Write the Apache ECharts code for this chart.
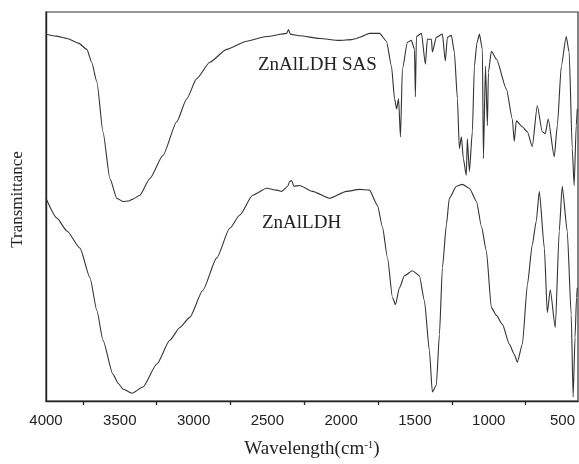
<!DOCTYPE html>
<html>
<head>
<meta charset="utf-8">
<script src="https://cdn.jsdelivr.net/npm/echarts@6/dist/echarts.min.js"></script>
<style>html,body{margin:0;padding:0;background:#fff}#c{width:579px;height:464px}</style>
</head>
<body>
<div id="c"></div>
<script>
// Wavenumbers (cm-1) and transmittance (a.u., 0-100)
const sasWavenumber = [4000,3930,3858,3780,3723,3690,3655,3614,3567,3520,3479,3440,3411,3364,3296,3208,3114,3046,2980,2890,2776,2640,2505,2370,2356,2345,2282,2146,2011,1930,1896,1875,1808,1740,1693,1659,1638,1624,1611,1598,1585,1551,1524,1503,1497,1490,1456,1429,1416,1388,1382,1355,1314,1294,1280,1253,1233,1212,1199,1185,1172,1152,1145,1131,1111,1097,1080,1063,1043,1036,1022,1009,1002,982,948,880,840,827,813,772,738,705,671,637,617,597,556,535,508,475,455,434,421,407,400];
const sasValue = [94.3,93.8,93.2,92.0,90.4,87.0,82.0,69.2,57.2,52.1,51.3,51.4,51.9,52.9,57.2,63.1,71.8,77.7,82.8,87.1,90.4,92.5,93.7,94.5,95.5,94.3,93.9,93.2,92.7,92.9,93.2,93.5,94.5,94.5,92.5,86.1,77.7,75.1,77.7,67.9,85.3,92.2,92.7,90.4,78.2,93.7,94.5,86.6,93.0,93.0,89.7,93.5,94.3,87.4,93.5,94.0,89.7,77.7,64.9,67.9,62.3,58.0,67.4,59.0,69.2,86.1,92.0,94.3,90.4,62.3,86.1,70.8,84.5,89.9,87.9,80.2,72.5,66.7,72.0,70.5,69.2,65.4,75.9,69.2,68.7,72.5,62.8,70.8,86.1,93.7,89.7,64.9,55.4,70.8,75.1];

const ldhWavenumber = [4000,3926,3858,3770,3702,3655,3614,3547,3510,3479,3418,3343,3249,3161,3093,3026,2938,2843,2755,2687,2600,2505,2437,2403,2362,2349,2336,2320,2282,2194,2078,1964,1875,1808,1754,1720,1686,1652,1632,1605,1571,1517,1470,1436,1402,1382,1355,1334,1314,1287,1267,1219,1179,1131,1083,1050,1016,982,948,907,860,827,806,772,738,705,678,657,623,603,583,549,522,502,468,441,428,415,405,400];
const ldhValue = [52.1,47.0,43.7,39.3,31.7,23.2,15.6,6.9,4.5,3.1,2.0,3.6,9.5,15.6,18.9,21.5,28.4,36.8,44.4,47.8,52.9,54.7,54.2,53.9,55.2,56.4,56.7,55.2,55.4,53.9,52.1,53.9,54.4,54.2,50.3,44.7,36.8,26.6,24.8,29.1,32.2,33.5,32.2,25.8,13.0,2.3,4.1,17.1,34.2,45.2,52.1,55.2,55.7,54.7,51.3,45.0,38.6,24.0,22.0,19.7,14.6,12.0,10.0,14.6,29.9,40.1,46.2,53.9,39.3,22.7,28.6,18.9,43.7,55.2,43.7,22.2,1.0,16.3,26.6,29.1];

const xTickLabels = [4000,3500,3000,2500,2000,1500,1000,500];
const xMinorTicks = [3750,3250,2750,2250,1750,1250,750];
const seriesNames = ['ZnAlLDH SAS','ZnAlLDH'];

const pairs = (xs, ys) => xs.map((x, i) => [x, ys[i]]);

const chart = echarts.init(document.getElementById('c'), null, {renderer: 'canvas'});
const serif = '"Liberation Serif", "Times New Roman", serif';
const sans = '"Liberation Sans", Arial, sans-serif';
chart.setOption({
  animation: false,
  backgroundColor: '#fff',
  grid: {left: 46, right: 1, top: 12, bottom: 60, show: true, borderColor: '#333', borderWidth: 1.2},
  xAxis: {
    type: 'value', inverse: true, min: 395, max: 4000,
    name: '{a|Wavelength(cm}{s|-1}{a|)}', nameLocation: 'middle', nameGap: 39,
    nameTextStyle: {rich: {
      a: {fontFamily: serif, fontSize: 19, color: '#222', verticalAlign: 'bottom'},
      s: {fontFamily: serif, fontSize: 11, color: '#222', verticalAlign: 'top'}
    }},
    axisLine: {show: true, onZero: false, lineStyle: {color: '#222', width: 1.4}},
    axisTick: {show: true, customValues: xMinorTicks, length: 4, lineStyle: {color: '#222', width: 1.3}},
    axisLabel: {customValues: xTickLabels, formatter: v => String(v), fontFamily: sans, fontSize: 15, color: '#222', margin: 12},
    splitLine: {show: false}
  },
  yAxis: {
    type: 'value', min: 0, max: 100,
    name: 'Transmittance', nameLocation: 'middle', nameGap: 20,
    nameTextStyle: {fontFamily: serif, fontSize: 17, color: '#222', padding: [0, 0, 0, 14]},
    axisLine: {show: true, lineStyle: {color: '#222', width: 1.4}},
    axisTick: {show: false}, axisLabel: {show: false}, splitLine: {show: false}
  },
  series: [
    {name: seriesNames[0], type: 'line', data: pairs(sasWavenumber, sasValue), showSymbol: false, symbol: 'none',
     smooth: 0.2, smoothMonotone: 'x', lineStyle: {color: '#333', width: 1.1}},
    {name: seriesNames[1], type: 'line', data: pairs(ldhWavenumber, ldhValue), showSymbol: false, symbol: 'none',
     smooth: 0.2, smoothMonotone: 'x', lineStyle: {color: '#333', width: 1.1}}
  ],
  graphic: [
    {type: 'text', left: 258, top: 56, style: {text: seriesNames[0], font: '19px ' + serif, fill: '#222'}},
    {type: 'text', left: 262, top: 214, style: {text: seriesNames[1], font: '19px ' + serif, fill: '#222'}}
  ]
});
</script>
</body>
</html>
